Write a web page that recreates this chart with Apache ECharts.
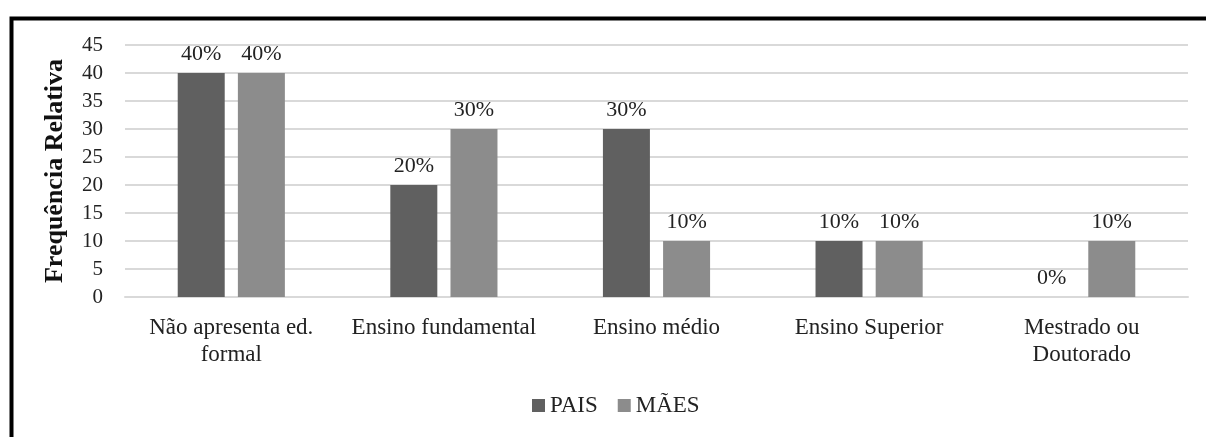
<!DOCTYPE html>
<html>
<head>
<meta charset="utf-8">
<script src="https://cdn.jsdelivr.net/npm/echarts@6/dist/echarts.min.js"></script>
<style>
  html, body { margin: 0; padding: 0; background: #fff; }
  #chart { width: 1206px; height: 437px; }
</style>
</head>
<body>
<div id="chart"></div>
<script>
// Escolaridade dos pais e mães (frequência relativa, %)
const categories = [
  'Não apresenta ed.\nformal',
  'Ensino fundamental',
  'Ensino médio',
  'Ensino Superior',
  'Mestrado ou\nDoutorado'
];
const pais = [40, 20, 30, 10, 0];
const maes = [40, 30, 10, 10, 10];
const seriesNames = ['PAIS', 'MÃES'];
const axisTitle = 'Frequência Relativa';

const FONT = '"Liberation Serif", "Times New Roman", serif';
const labelStyle = {
  show: true,
  position: 'top',
  distance: 8,
  formatter: p => p.value + '%',
  fontFamily: FONT,
  fontSize: 22,
  color: '#222'
};

const chart = echarts.init(document.getElementById('chart'), null, { renderer: 'canvas' });
chart.setOption({
  animation: false,
  backgroundColor: '#fff',
  textStyle: { fontFamily: FONT },
  graphic: [{
    type: 'rect',
    left: 9, top: 16,
    shape: { x: 0, y: 0, width: 1400, height: 600 },
    style: { fill: 'none', stroke: '#000', lineWidth: 4 },
    silent: true
  }],
  grid: { left: 125, right: 18, top: 45, bottom: 140 },
  legend: {
    data: seriesNames,
    bottom: 15,
    left: 527,
    itemWidth: 13,
    itemHeight: 13,
    itemGap: 20,
    icon: 'rect',
    textStyle: { fontFamily: FONT, fontSize: 23, color: '#222' }
  },
  xAxis: {
    type: 'category',
    data: categories,
    axisTick: { show: false },
    axisLine: { show: true, lineStyle: { color: '#d9d9d9', width: 2 } },
    axisLabel: {
      interval: 0,
      margin: 17,
      fontFamily: FONT,
      fontSize: 23,
      color: '#222',
      lineHeight: 27,
      align: 'center'
    }
  },
  yAxis: {
    type: 'value',
    min: 0,
    max: 45,
    interval: 5,
    name: axisTitle,
    nameLocation: 'middle',
    nameGap: 57,
    nameRotate: 90,
    nameTextStyle: { fontFamily: FONT, fontSize: 26, fontWeight: 'bold', color: '#111' },
    axisLine: { show: false },
    axisTick: { show: false },
    axisLabel: { margin: 22, fontFamily: FONT, fontSize: 21, color: '#222' },
    splitLine: { lineStyle: { color: '#d9d9d9', width: 2 } }
  },
  series: [
    {
      name: seriesNames[0],
      type: 'bar',
      data: pais,
      barWidth: 47,
      barGap: '28%',
      itemStyle: { color: '#606060' },
      label: labelStyle
    },
    {
      name: seriesNames[1],
      type: 'bar',
      data: maes,
      barWidth: 47,
      itemStyle: { color: '#8c8c8c' },
      label: labelStyle
    }
  ]
});
</script>
</body>
</html>
